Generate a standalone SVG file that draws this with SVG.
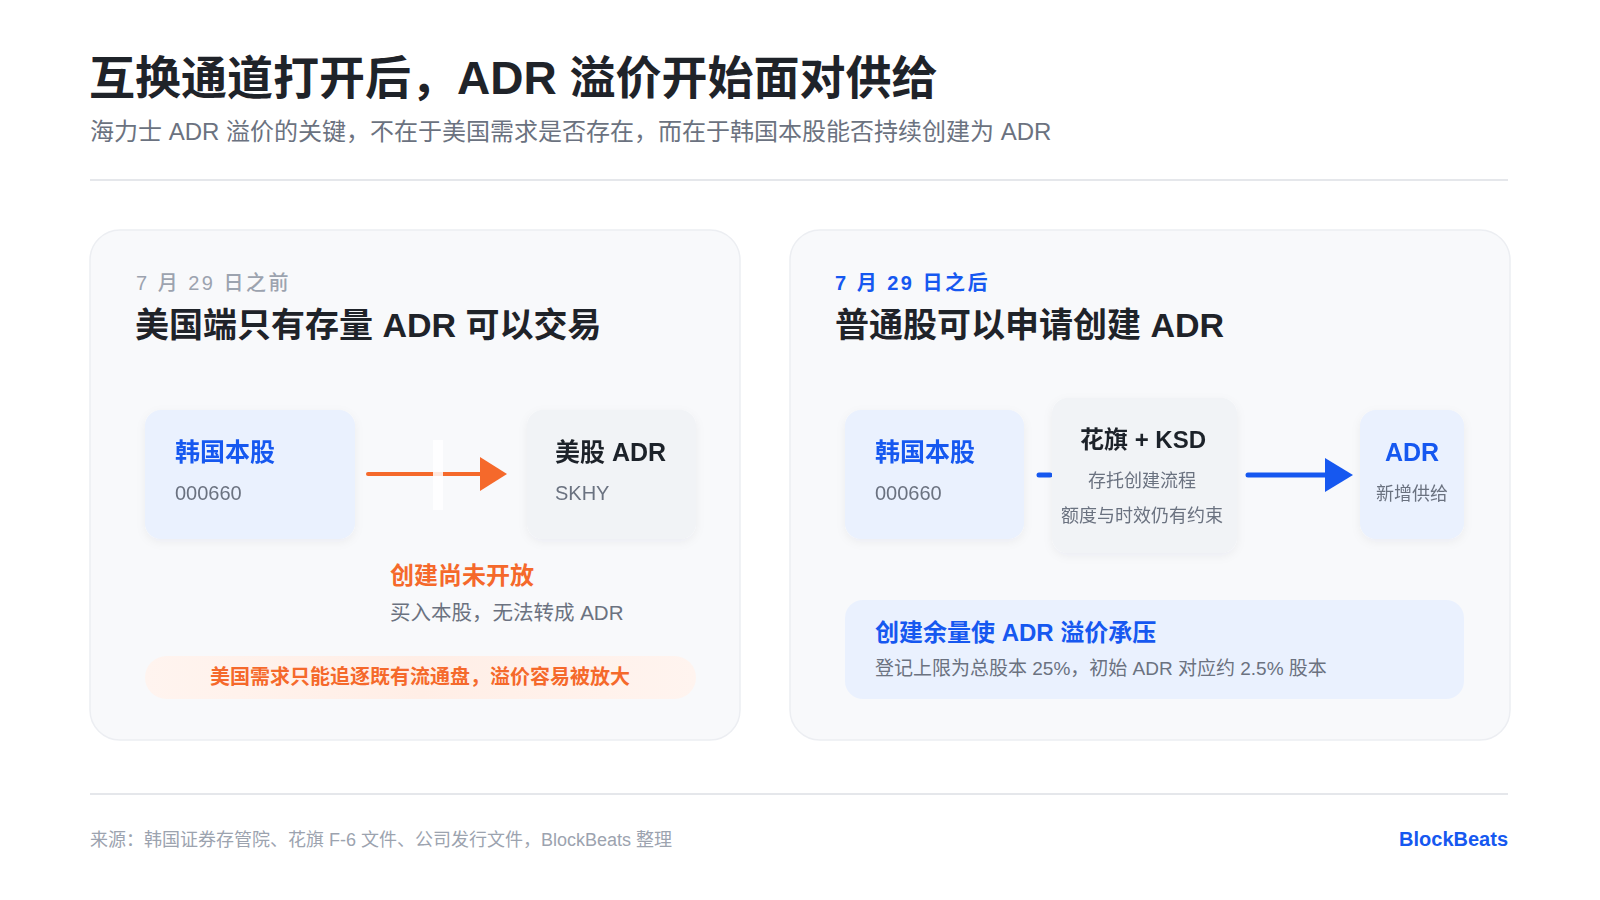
<svg xmlns="http://www.w3.org/2000/svg" width="1600" height="900" viewBox="0 0 1600 900">
<defs>
<style>
text{font-family:"Liberation Sans","Noto Sans CJK SC",sans-serif;}
.title{font-size:46px;font-weight:700;fill:#1f2329;}
.sub{font-size:24px;fill:#6b7280;}
.card{fill:#f8f9fb;stroke:#eceef2;stroke-width:1.5;}
.date{font-size:20px;letter-spacing:2.5px;}
.h2{font-size:34px;font-weight:700;fill:#1f2329;}
.nblue{fill:#eaf1fe;}
.ngray{fill:#f1f3f6;}
.lblb{font-size:25px;font-weight:700;fill:#1658f0;}
.lbld{font-size:25px;font-weight:700;fill:#1f2329;}
.code{font-size:20px;fill:#6b7280;}
.small{font-size:18px;fill:#6b7280;}
.foot{font-size:18px;fill:#9ca3af;}
.div{stroke:#e5e7eb;stroke-width:2;}
</style>
<filter id="sh" x="-20%" y="-20%" width="140%" height="140%">
<feDropShadow dx="0" dy="3" stdDeviation="5" flood-color="#1f2937" flood-opacity="0.05"/>
</filter>
<linearGradient id="pillg" x1="0" y1="0" x2="1" y2="0">
<stop offset="0" stop-color="#fff4ef"/>
<stop offset="0.5" stop-color="#ffeee6"/>
<stop offset="1" stop-color="#fff4ef"/>
</linearGradient>
</defs>
<rect width="1600" height="900" fill="#ffffff"/>

<g id="header">
<text class="title" x="89" y="94">互换通道打开后，ADR 溢价开始面对供给</text>
<text class="sub" x="90" y="140">海力士 ADR 溢价的关键，不在于美国需求是否存在，而在于韩国本股能否持续创建为 ADR</text>
<line class="div" x1="90" y1="180" x2="1508" y2="180"/>
</g>

<g id="card-left">
<rect class="card" x="90" y="230" width="650" height="510" rx="30"/>
<text class="date" x="136" y="290" fill="#9ca3af" font-weight="500">7 月 29 日之前</text>
<text class="h2" x="135" y="337">美国端只有存量 ADR 可以交易</text>
</g>

<g id="card-right">
<rect class="card" x="790" y="230" width="720" height="510" rx="30"/>
<text class="date" x="835" y="290" fill="#1658f0" font-weight="700">7 月 29 日之后</text>
<text class="h2" x="835" y="337">普通股可以申请创建 ADR</text>
</g>

<g id="connectors">
<line x1="368" y1="474" x2="484" y2="474" stroke="#f5692b" stroke-width="4" stroke-linecap="round"/>
<polygon points="480,457 507,474 480,491" fill="#f5692b"/>
<rect x="433" y="440" width="10" height="70" fill="#ffffff" opacity="0.85"/>
<line x1="1039" y1="475" x2="1050" y2="475" stroke="#1658f0" stroke-width="5" stroke-linecap="round"/>
<line x1="1248" y1="475" x2="1330" y2="475" stroke="#1658f0" stroke-width="5" stroke-linecap="round"/>
<polygon points="1325,458 1353,475 1325,492" fill="#1658f0"/>
</g>

<g id="node-kr-left" filter="url(#sh)">
<rect class="nblue" x="145" y="410" width="210" height="129" rx="16"/>
<text class="lblb" x="175" y="461">韩国本股</text>
<text class="code" x="175" y="500">000660</text>
</g>

<g id="node-us-adr" filter="url(#sh)">
<rect class="ngray" x="527" y="410" width="169" height="129" rx="16"/>
<text class="lbld" x="555" y="461">美股 ADR</text>
<text class="code" x="555" y="500">SKHY</text>
</g>

<g id="note-left">
<text x="390" y="584" font-size="24" font-weight="700" fill="#f5692b">创建尚未开放</text>
<text x="390" y="620" font-size="20.5" fill="#6b7280">买入本股，无法转成 ADR</text>
</g>

<g id="pill-left">
<rect x="145" y="656" width="551" height="43" rx="21.5" fill="url(#pillg)"/>
<text x="420" y="684" font-size="20" font-weight="700" fill="#f5692b" text-anchor="middle">美国需求只能追逐既有流通盘，溢价容易被放大</text>
</g>

<g id="node-kr-right" filter="url(#sh)">
<rect class="nblue" x="845" y="410" width="179" height="129" rx="16"/>
<text class="lblb" x="875" y="461">韩国本股</text>
<text class="code" x="875" y="500">000660</text>
</g>

<g id="node-citi-ksd" filter="url(#sh)">
<rect class="ngray" x="1052" y="398" width="185" height="155" rx="16"/>
<text x="1143" y="448" font-size="24" font-weight="700" fill="#1f2329" text-anchor="middle">花旗 + KSD</text>
<text class="small" x="1142" y="487" text-anchor="middle" font-size="19">存托创建流程</text>
<text class="small" x="1142" y="522" text-anchor="middle">额度与时效仍有约束</text>
</g>

<g id="node-adr" filter="url(#sh)">
<rect class="nblue" x="1360" y="410" width="104" height="129" rx="16"/>
<text class="lblb" x="1412" y="461" text-anchor="middle" font-size="24">ADR</text>
<text class="small" x="1412" y="500" text-anchor="middle">新增供给</text>
</g>

<g id="panel-right">
<rect class="nblue" x="845" y="600" width="619" height="99" rx="18"/>
<text x="875" y="641" font-size="24" font-weight="700" fill="#1658f0">创建余量使 ADR 溢价承压</text>
<text x="875" y="675" font-size="19" fill="#6b7280">登记上限为总股本 25%，初始 ADR 对应约 2.5% 股本</text>
</g>

<g id="footer">
<line class="div" x1="90" y1="794" x2="1508" y2="794"/>
<text class="foot" x="90" y="846">来源：韩国证券存管院、花旗 F-6 文件、公司发行文件，BlockBeats 整理</text>
<text x="1508" y="846" font-size="20" font-weight="700" fill="#1658f0" text-anchor="end">BlockBeats</text>
</g>
</svg>
